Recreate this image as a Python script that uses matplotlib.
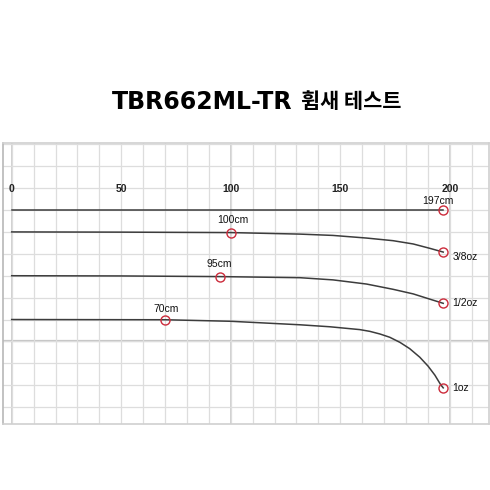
import matplotlib.pyplot as plt

# rod positions (cm along / cm of drop)
tick_vals = [0, 50, 100, 150, 200]

x_free = [0, 197]
y_free = [0, 0]

x_38 = [0, 50, 100, 131.6, 146.7, 162, 174.1, 183.3, 190.9, 197]
y_38 = [-10, -10.1, -10.3, -11.0, -11.6, -12.8, -14.0, -15.5, -17.5, -19.2]

x_12 = [0, 50, 95, 131.6, 146.7, 162, 174.1, 183.3, 190.9, 197]
y_12 = [-30, -30.1, -30.4, -30.9, -31.9, -33.8, -36.2, -38.3, -40.7, -42.6]

x_1 = [0, 70, 100, 131.6, 145.2, 158.9, 163.5, 168.1, 172.6, 177.2, 181.7,
       186.3, 190.1, 193.2, 195.8, 197]
y_1 = [-50, -50.1, -50.8, -52.4, -53.3, -54.6, -55.4, -56.6, -58.1, -60.4, -63.3,
       -67.2, -71.3, -75.4, -79.7, -81.2]

# marked points and their labels
mark_x = [197, 100, 197, 95, 197, 70, 197]
mark_y = [0, -10.3, -19.2, -30.4, -42.6, -50.1, -81.2]

cm_labels = ['197cm', '100cm', '95cm', '70cm']
cm_x = [194.5, 101, 94.8, 70.3]
cm_y = [4.1, -4.6, -24.7, -45.2]

oz_labels = ['3/8oz', '1/2oz', '1oz']
oz_y = [-21.3, -42.3, -81.4]

title_model = 'TBR662ML-TR'
title_kr = '휨새 테스트'

fig = plt.figure(figsize=(4.9, 4.9), dpi=100)
ax = fig.add_axes([3 / 490, 66 / 490, 486 / 490, 281 / 490])

ax.set_xlim(-3.97, 217.9)
ax.set_ylim(-97.7, 30.6)
ax.set_xticks(range(0, 220, 10))
ax.set_yticks(range(-90, 40, 10))
ax.tick_params(length=0, labelbottom=False, labelleft=False)
ax.grid(True, color='#dddddd', linewidth=0.9)
ax.set_axisbelow(True)
for v in [0, 100, 200]:
    ax.axvline(v, color='#c4c4c4', linewidth=1.1, zorder=0.5)
ax.axhline(-60, color='#c4c4c4', linewidth=1.6, zorder=0.5)
for s in ax.spines.values():
    s.set_color('#d0d0d0')
    s.set_linewidth(1.2)
ax.spines['left'].set_color('#b8b8b8')

line_kw = dict(color='#3c3c3c', linewidth=1.1, zorder=2,
               solid_joinstyle='round')
ax.plot(x_free, y_free, **line_kw)
ax.plot(x_38, y_38, **line_kw)
ax.plot(x_12, y_12, **line_kw)
ax.plot(x_1, y_1, **line_kw)

ax.plot(mark_x, mark_y, 'o', markersize=6.5, markerfacecolor='none',
        markeredgecolor='#cc2b3b', markeredgewidth=1.0, zorder=3)

for v in tick_vals:
    ax.text(v, 9.8, str(v), ha='center', va='center', fontsize=7.5,
            family='Liberation Sans', fontweight='bold', color='#222222')

for lab, x, y in zip(cm_labels, cm_x, cm_y):
    ax.text(x, y, lab, ha='center', va='center', fontsize=7.5,
            family='Liberation Sans', color='#111111')

for lab, y in zip(oz_labels, oz_y):
    ax.text(201.3, y, lab, ha='left', va='center', fontsize=7.5,
            family='Liberation Sans', color='#111111')

fig.text(292 / 490, 0.7924, title_model, ha='right', va='center', fontsize=17,
         family='DejaVu Sans', fontweight='bold')
fig.text(301 / 490, 0.7924, title_kr, ha='left', va='center', fontsize=15,
         family=['Noto Sans CJK KR', 'DejaVu Sans'], fontweight='bold')

fig.savefig('out.png', dpi=100, facecolor='white')
